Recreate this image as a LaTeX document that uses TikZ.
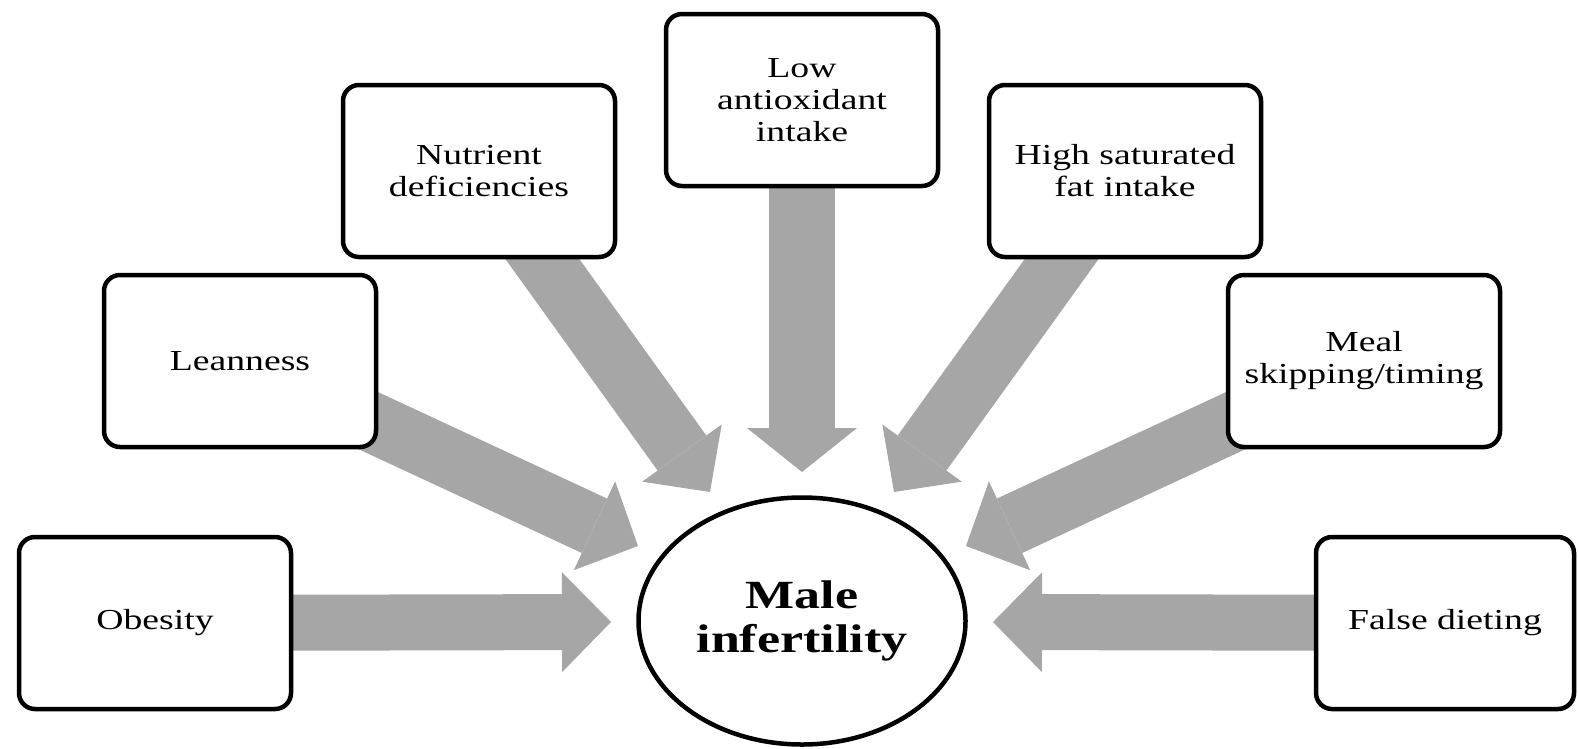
\documentclass[tikz,border=0pt]{standalone}
\usepackage{fontspec}
\setmainfont{Liberation Serif}[FakeStretch=1.3]
\usetikzlibrary{arrows.meta,shapes.geometric,backgrounds}
\definecolor{arrowgrey}{RGB}{166,166,166}
\begin{document}
\begin{tikzpicture}[x=1pt,y=-1pt,
  factor/.style={draw=black, line width=4.5pt, rounded corners=16pt, fill=white,
    minimum width=272pt, minimum height=172pt, align=center, inner sep=0pt,
    font=\fontsize{29}{32}\selectfont},
  centre/.style={draw=black, ellipse, line width=4.5pt, fill=white,
    minimum width=327pt, minimum height=247pt, inner sep=0pt, align=center,
    font=\bfseries\fontsize{40}{44}\selectfont},
  blockarrow/.style n args={3}{draw=arrowgrey, line width=#1,
    -{Triangle[width=#2, length=#3, line width=0pt]}},
  harrow/.style={blockarrow={56pt}{100pt}{49pt}},
  varrow/.style={blockarrow={66pt}{110pt}{44pt}},
  darrow/.style={blockarrow={60pt}{98pt}{48pt}}]
\useasboundingbox (0,0) rectangle (1578,748);
% factors
\node[factor] (obes) at (155,623) {Obesity};
\node[factor] (lean) at (240,361) {Leanness};
\node[factor] (nutr) at (479,171) {Nutrient\\deficiencies};
\node[factor] (anti) at (802,100) {Low\\antioxidant\\intake};
\node[factor] (fat) at (1125,171) {High saturated\\fat intake};
\node[factor] (meal) at (1364,361) {Meal\\skipping/timing};
\node[factor, minimum width=258pt] (false) at (1445,623) {False dieting};
% centre
\node[centre] (mi) at (802,621) {Male\\infertility};
% arrow tips
\coordinate (tObes) at (611,622);
\coordinate (tLean) at (638,546);
\coordinate (tNutr) at (710,492);
\coordinate (tAnti) at (802,472);
\coordinate (tFat) at (894,492);
\coordinate (tMeal) at (966,546);
\coordinate (tFalse) at (993,622);
\begin{scope}[on background layer]
\draw[harrow] (obes.center) -- (tObes);
\draw[darrow] (lean.center) -- (tLean);
\draw[darrow] (nutr.center) -- (tNutr);
\draw[varrow] (anti.center) -- (tAnti);
\draw[darrow] (fat.center) -- (tFat);
\draw[darrow] (meal.center) -- (tMeal);
\draw[harrow] (false.center) -- (tFalse);
\end{scope}
\end{tikzpicture}
\end{document}
